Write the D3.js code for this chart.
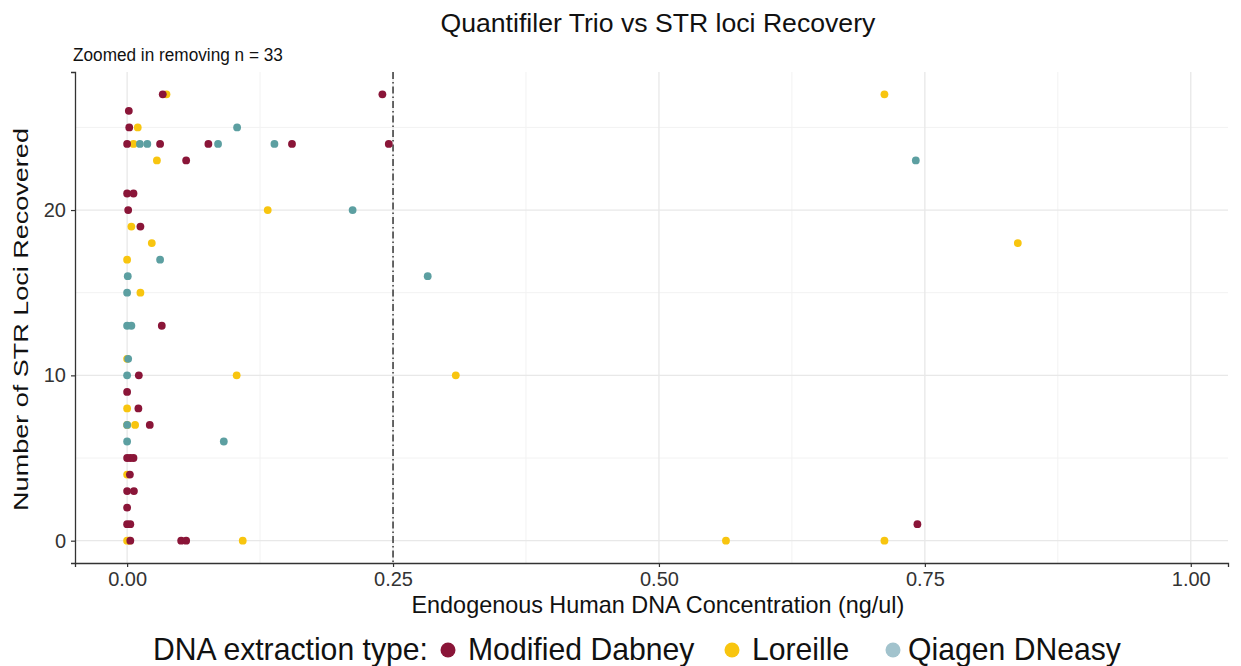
<!DOCTYPE html>
<html>
<head>
<meta charset="utf-8">
<script src="https://cdn.jsdelivr.net/npm/d3@7"></script>
<style>
  html, body { margin: 0; padding: 0; background: #fff; }
  svg { display: block; font-family: "Liberation Sans", Arial, sans-serif; }
</style>
</head>
<body>
<svg id="chart" width="1241" height="666"></svg>
<script>
// ---- data ----
const dabneyConc = [0.0335, 0.240, 0.0016, 0.002, 0, 0.031, 0.0764, 0.155, 0.246, 0.0555, 0, 0.006, 0.001, 0.0125, 0.0326, 0.011, 0, 0.0106, 0.0213, 0, 0.003, 0.006, 0.0026, 0, 0.0064, 0, 0, 0.003, 0.743, 0.003, 0.0508, 0.0555];
const dabneyLoci = [27, 27, 26, 25, 24, 24, 24, 24, 24, 23, 21, 21, 20, 19, 13, 10, 9, 8, 7, 5, 5, 5, 4, 3, 3, 2, 1, 1, 1, 0, 0, 0];
const loreilleConc = [0.037, 0.712, 0.010, 0.006, 0.028, 0.1322, 0.004, 0.0232, 0.8374, 0, 0.0125, 0, 0.103, 0.309, 0, 0, 0.0075, 0, 0, 0.002, 0.1087, 0.563, 0.712];
const loreilleLoci = [27, 27, 25, 24, 23, 20, 19, 18, 18, 17, 15, 11, 10, 10, 8, 7, 7, 4, 0, 0, 0, 0, 0];
const qiagenConc = [0.1034, 0.012, 0.019, 0.0855, 0.1385, 0.7415, 0.212, 0.031, 0.2826, 0.0006, 0, 0, 0.004, 0.001, 0, 0, 0, 0.0909];
const qiagenLoci = [25, 24, 24, 24, 24, 23, 20, 17, 16, 16, 15, 13, 13, 11, 10, 7, 6, 6];

const seriesNames = ['Modified Dabney', 'Loreille', 'Qiagen DNeasy'];
const xTicks = [0, 0.25, 0.5, 0.75, 1.0];
const xMinor = [0.125, 0.375, 0.625, 0.875];
const yTicks = [0, 10, 20];
const yMinor = [5, 15, 25];
const cutoff = 0.25;

const colors = { 'Modified Dabney': '#8a1538', 'Loreille': '#f8c50f', 'Qiagen DNeasy': '#5c9fa1' };
const legendColors = { 'Modified Dabney': '#8a1538', 'Loreille': '#f8c50f', 'Qiagen DNeasy': '#a2c3cd' };

const zip = (xs, ys, s) => xs.map((x, i) => ({ x, y: ys[i], s }));
// draw order: Loreille, Qiagen, Dabney
const points = [
  ...zip(loreilleConc, loreilleLoci, 'Loreille'),
  ...zip(qiagenConc, qiagenLoci, 'Qiagen DNeasy'),
  ...zip(dabneyConc, dabneyLoci, 'Modified Dabney')
];

const svg = d3.select('#chart');
const m = { l: 75, r: 1228, t: 72, b: 563 };
const x = d3.scaleLinear().domain([-0.049, 1.035]).range([m.l, m.r]);
const y = d3.scaleLinear().domain([-1.35, 28.35]).range([m.b, m.t]);

// horizontal text at a given font size, squeezed sideways to a target width
function label(px, py, txt, fs, w, anchor) {
  const g = svg.append('g');
  const t = g.append('text').attr('font-size', fs).attr('fill', '#111').text(txt);
  const len = t.node().getComputedTextLength();
  const sx = w ? w / len : 1;
  const off = anchor === 'middle' ? -len / 2 : 0;
  t.attr('x', off);
  g.attr('transform', `translate(${px},${py}) scale(${sx},1)`);
  return { sx, len: len * sx };
}

// ---- grid ----
const grid = svg.append('g');
xMinor.forEach(v => grid.append('line').attr('x1', x(v)).attr('x2', x(v)).attr('y1', m.t).attr('y2', m.b).attr('stroke', '#f2f2f2').attr('stroke-width', 1));
yMinor.forEach(v => grid.append('line').attr('x1', m.l).attr('x2', m.r).attr('y1', y(v)).attr('y2', y(v)).attr('stroke', '#f2f2f2').attr('stroke-width', 1));
xTicks.forEach(v => grid.append('line').attr('x1', x(v)).attr('x2', x(v)).attr('y1', m.t).attr('y2', m.b).attr('stroke', '#e8e8e8').attr('stroke-width', 1.3));
yTicks.forEach(v => grid.append('line').attr('x1', m.l).attr('x2', m.r).attr('y1', y(v)).attr('y2', y(v)).attr('stroke', '#e8e8e8').attr('stroke-width', 1.3));

// ---- cutoff line ----
svg.append('line').attr('x1', x(cutoff)).attr('x2', x(cutoff)).attr('y1', m.t).attr('y2', m.b)
  .attr('stroke', '#2b2b2b').attr('stroke-width', 1.4).attr('stroke-dasharray', '7,3,1.5,3');

// ---- points ----
svg.append('g').selectAll('circle').data(points).join('circle')
  .attr('cx', d => x(d.x)).attr('cy', d => y(d.y)).attr('r', 3.9)
  .attr('fill', d => colors[d.s]);

// ---- axes ----
const xAxis = svg.append('g').attr('transform', `translate(0,${m.b})`)
  .call(d3.axisBottom(x).tickValues(xTicks).tickFormat(d3.format('.2f')).tickSizeOuter(0).tickSize(4).tickPadding(5));
const yAxis = svg.append('g').attr('transform', `translate(${m.l},0)`)
  .call(d3.axisLeft(y).tickValues(yTicks).tickSizeOuter(0).tickSize(4).tickPadding(5));
[xAxis, yAxis].forEach(a => {
  a.select('.domain').attr('stroke', '#333').attr('stroke-width', 1.3);
  a.selectAll('.tick line').attr('stroke', '#333').attr('stroke-width', 1.2);
  a.selectAll('.tick text').attr('fill', '#333').attr('font-size', 20).attr('font-family', '"Liberation Sans", Arial, sans-serif');
});

// ---- titles ----
label(658, 32, 'Quantifiler Trio vs STR loci Recovery', 25, 435, 'middle');
label(73, 61, 'Zoomed in removing n = 33', 17.5, 210);
label(658, 613, 'Endogenous Human DNA Concentration (ng/ul)', 23, 493, 'middle');

// y title: length fitted to the axis, glyphs squeezed across
const ytG = svg.append('g');
const yt = ytG.append('text').attr('text-anchor', 'middle').attr('fill', '#111').attr('transform', 'rotate(-90)')
  .attr('font-size', 100).text('Number of STR Loci Recovered');
const ytFs = 100 * 383 / yt.node().getComputedTextLength();
yt.attr('font-size', ytFs);
ytG.attr('transform', `translate(28,${(m.t + m.b) / 2 + 2}) scale(${21 / ytFs},1)`);

// ---- legend ----
const lgY = 660;
const head = label(153, lgY, 'DNA extraction type:', 31, 275);
const keyX = [448, 732, 893];
const labX = [468, 752, 908];
seriesNames.forEach((s, i) => {
  svg.append('circle').attr('cx', keyX[i]).attr('cy', lgY - 10).attr('r', 7.5).attr('fill', legendColors[s]);
  const g = svg.append('g').attr('transform', `translate(${labX[i]},${lgY}) scale(${head.sx},1)`);
  g.append('text').attr('font-size', 31).attr('fill', '#111').text(s);
});
</script>
</body>
</html>
